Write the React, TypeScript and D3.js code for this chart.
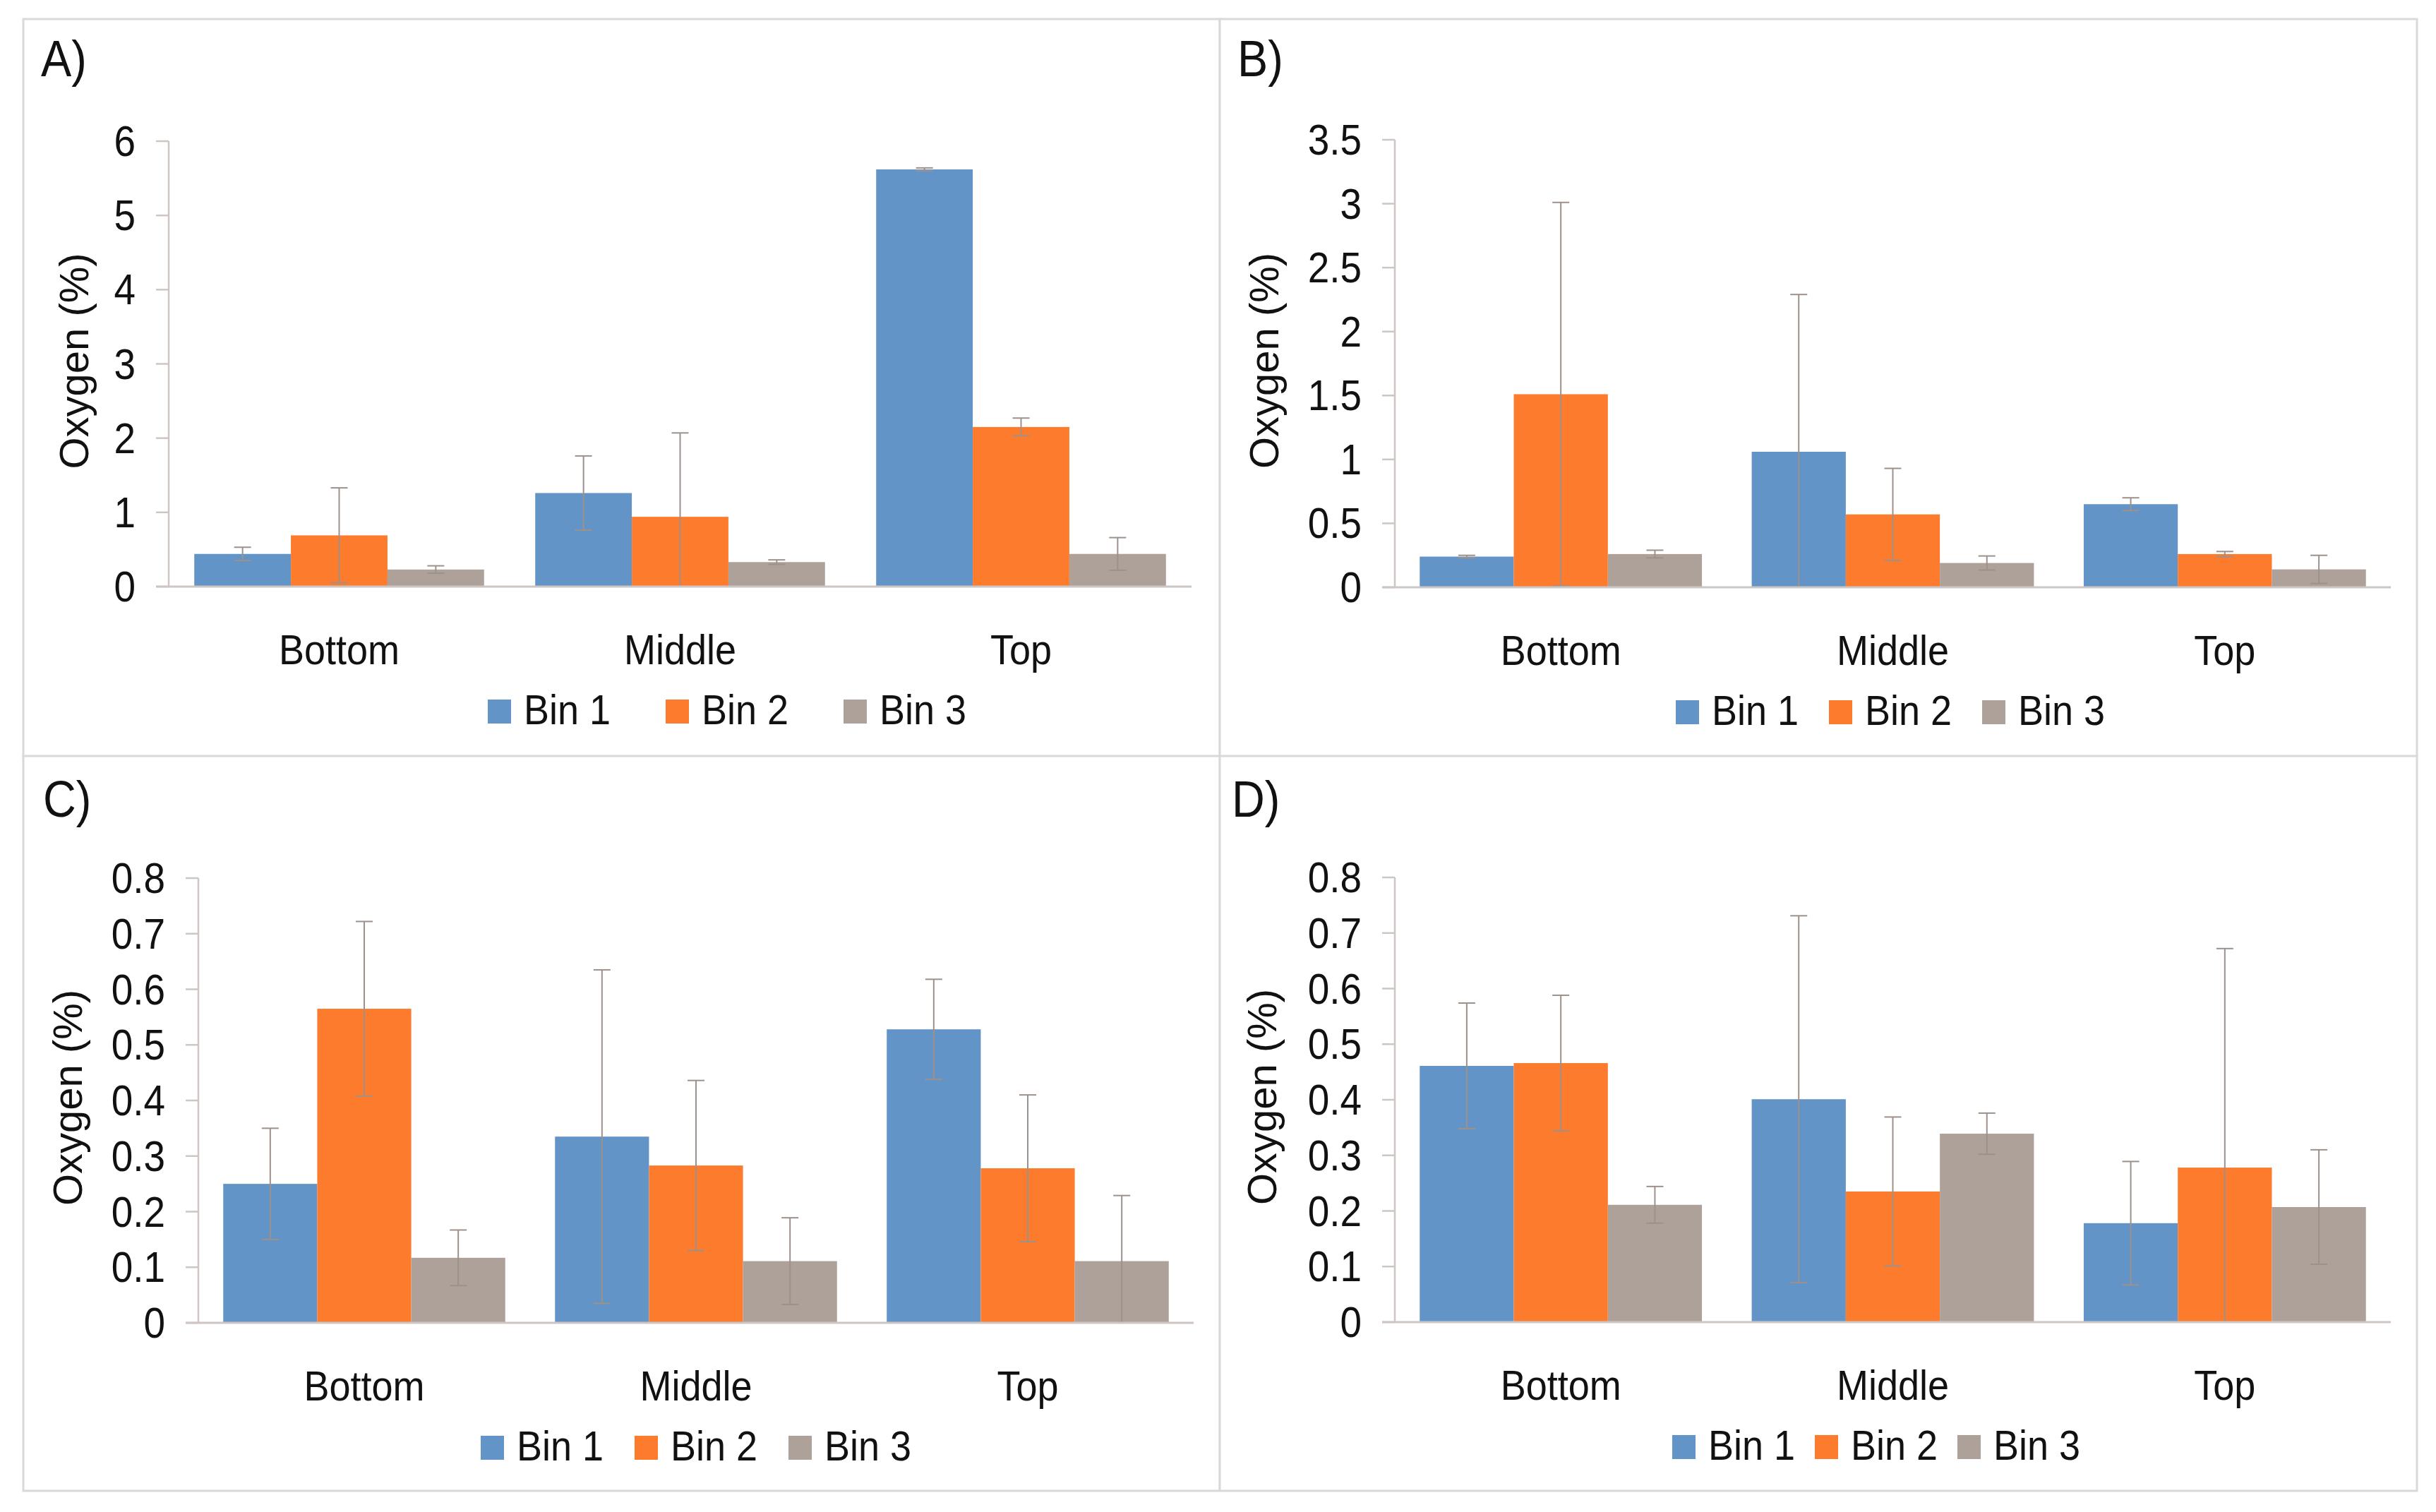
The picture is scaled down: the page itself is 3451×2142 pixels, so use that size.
import React from "react";
import * as d3 from "d3";

const categories = ["Bottom", "Middle", "Top"];
const bins = ["Bin 1", "Bin 2", "Bin 3"];
const panelLabels = ["A)", "B)", "C)", "D)"];
const yAxisTitle = "Oxygen (%)";

// Panel A
const aBin1 = [0.44, 1.26, 5.62];
const aBin2 = [0.69, 0.94, 2.15];
const aBin3 = [0.23, 0.33, 0.44];
const aErr1 = [0.09, 0.5, 0.02];
const aErr2 = [0.64, 1.13, 0.12];
const aErr3 = [0.05, 0.03, 0.22];
const aTicks = [0, 1, 2, 3, 4, 5, 6];

// Panel B
const bBin1 = [0.24, 1.06, 0.65];
const bBin2 = [1.51, 0.57, 0.26];
const bBin3 = [0.26, 0.19, 0.14];
const bErr1 = [0.01, 1.23, 0.05];
const bErr2 = [1.5, 0.36, 0.02];
const bErr3 = [0.03, 0.055, 0.11];
const bTicks = [0, 0.5, 1, 1.5, 2, 2.5, 3, 3.5];

// Panel C
const cBin1 = [0.25, 0.335, 0.528];
const cBin2 = [0.565, 0.283, 0.278];
const cBin3 = [0.117, 0.111, 0.111];
const cErr1 = [0.1, 0.3, 0.09];
const cErr2 = [0.157, 0.153, 0.132];
const cErr3 = [0.05, 0.078, 0.118];
const cTicks = [0, 0.1, 0.2, 0.3, 0.4, 0.5, 0.6, 0.7, 0.8];

// Panel D
const dBin1 = [0.461, 0.401, 0.178];
const dBin2 = [0.466, 0.235, 0.278];
const dBin3 = [0.211, 0.339, 0.207];
const dErr1 = [0.113, 0.33, 0.111];
const dErr2 = [0.122, 0.134, 0.394];
const dErr3 = [0.033, 0.037, 0.103];
const dTicks = [0, 0.1, 0.2, 0.3, 0.4, 0.5, 0.6, 0.7, 0.8];

const binColors = ["#6394c7", "#fd7b2d", "#aea199"];

const layouts = [
  { box: [33, 27, 1728, 1072], x0: 239, x1: 1688, yTop: 200, y0: 831, lx: 58, ly: 108, tx: 125, legX: 691, legStep: 252 },
  { box: [1728, 27, 3424, 1072], x0: 1976, x1: 3387, yTop: 198, y0: 832, lx: 1753, ly: 108, tx: 1811, legX: 2374, legStep: 217 },
  { box: [33, 1071, 1728, 2112], x0: 281, x1: 1691, yTop: 1244, y0: 1874, lx: 61, ly: 1157, tx: 116, legX: 681, legStep: 218 },
  { box: [1728, 1071, 3424, 2112], x0: 1976, x1: 3387, yTop: 1243, y0: 1873, lx: 1745, ly: 1157, tx: 1808, legX: 2369, legStep: 202 },
];

const panelData = [
  { means: [aBin1, aBin2, aBin3], errs: [aErr1, aErr2, aErr3], ticks: aTicks },
  { means: [bBin1, bBin2, bBin3], errs: [bErr1, bErr2, bErr3], ticks: bTicks },
  { means: [cBin1, cBin2, cBin3], errs: [cErr1, cErr2, cErr3], ticks: cTicks },
  { means: [dBin1, dBin2, dBin3], errs: [dErr1, dErr2, dErr3], ticks: dTicks },
];

const FONT = "'Liberation Sans', Arial, Helvetica, sans-serif";
const SX = 0.9;
const fmt = d3.format("~g");

function T({ x, y, size, anchor = "start", children }: any) {
  return (
    <text
      transform={`translate(${x},${y}) scale(${SX},1)`}
      textAnchor={anchor}
      fontSize={size}
      fontFamily={FONT}
      fill="#111"
    >
      {children}
    </text>
  );
}

function Panel({ idx }: { idx: number }) {
  const L = layouts[idx];
  const D = panelData[idx];
  const yMax = D.ticks[D.ticks.length - 1];
  const x = d3.scaleBand<string>().domain(categories).range([L.x0, L.x1]);
  const bw = x.bandwidth();
  const gap = bw * 0.075;
  const xi = d3.scaleBand<string>().domain(bins).range([gap, bw - gap]);
  const y = d3.scaleLinear().domain([0, yMax]).range([L.y0, L.yTop]);
  const [bx0, by0, bx1, by1] = L.box;
  const errColor = "#9d918c";
  const capW = 24;

  return (
    <g>
      <rect x={bx0} y={by0} width={bx1 - bx0} height={by1 - by0} fill="#fff" stroke="#d9d9d9" strokeWidth={3} />
      <T x={L.lx} y={L.ly} size={72}>{panelLabels[idx]}</T>
      <text
        transform={`translate(${L.tx},${(L.yTop + L.y0) / 2 - 4}) rotate(-90)`}
        textAnchor="middle"
        fontSize={58}
        fontFamily={FONT}
        fill="#111"
      >
        {yAxisTitle}
      </text>
      {/* bars */}
      {bins.map((b, bi) =>
        categories.map((c, ci) => {
          const v = D.means[bi][ci];
          return (
            <rect
              key={b + c}
              x={(x(c) as number) + (xi(b) as number)}
              y={y(v)}
              width={xi.bandwidth()}
              height={y(0) - y(v)}
              fill={binColors[bi]}
            />
          );
        })
      )}
      {/* error bars */}
      {bins.map((b, bi) =>
        categories.map((c, ci) => {
          const v = D.means[bi][ci];
          const e = D.errs[bi][ci];
          const cx = (x(c) as number) + (xi(b) as number) + xi.bandwidth() / 2;
          const hi = y(v + e);
          const lowVal = v - e;
          const lo = lowVal < 0 ? y(0) : y(lowVal);
          return (
            <g key={"e" + b + c} stroke={errColor} strokeWidth={2}>
              <line x1={cx} x2={cx} y1={hi} y2={lo} />
              <line x1={cx - capW / 2} x2={cx + capW / 2} y1={hi} y2={hi} />
              {lowVal >= 0 && <line x1={cx - capW / 2} x2={cx + capW / 2} y1={lo} y2={lo} />}
            </g>
          );
        })
      )}
      {/* y axis */}
      <line x1={L.x0} x2={L.x0} y1={y(yMax)} y2={y(0)} stroke="#cdc6c3" strokeWidth={2.5} />
      {D.ticks.map((t) => (
        <g key={"t" + t}>
          <line x1={L.x0 - 18} x2={L.x0} y1={y(t)} y2={y(t)} stroke="#cdc6c3" strokeWidth={2.5} />
          <T x={L.x0 - 47} y={y(t) + 21} size={61} anchor="end">{fmt(t)}</T>
        </g>
      ))}
      {/* x axis */}
      <line x1={L.x0 - 18} x2={L.x1} y1={y(0)} y2={y(0)} stroke="#cdc6c3" strokeWidth={3} />
      {categories.map((c) => (
        <T key={"c" + c} x={(x(c) as number) + bw / 2} y={L.y0 + 110} size={60} anchor="middle">{c}</T>
      ))}
      {/* legend */}
      {bins.map((b, bi) => {
        const lx = L.legX + bi * L.legStep;
        return (
          <g key={"l" + b}>
            <rect x={lx} y={L.y0 + 160} width={33} height={34} fill={binColors[bi]} />
            <T x={lx + 51} y={L.y0 + 195} size={60}>{b}</T>
          </g>
        );
      })}
    </g>
  );
}

export default function App() {
  return (
    <svg
      width={3451}
      height={2142}
      viewBox="0 0 3451 2142"
      style={{ position: "absolute", left: 0, top: 0, display: "block", background: "#fff" }}
    >
      <rect x={0} y={0} width={3451} height={2142} fill="#fff" />
      {layouts.map((_, i) => (
        <Panel key={i} idx={i} />
      ))}
    </svg>
  );
}
